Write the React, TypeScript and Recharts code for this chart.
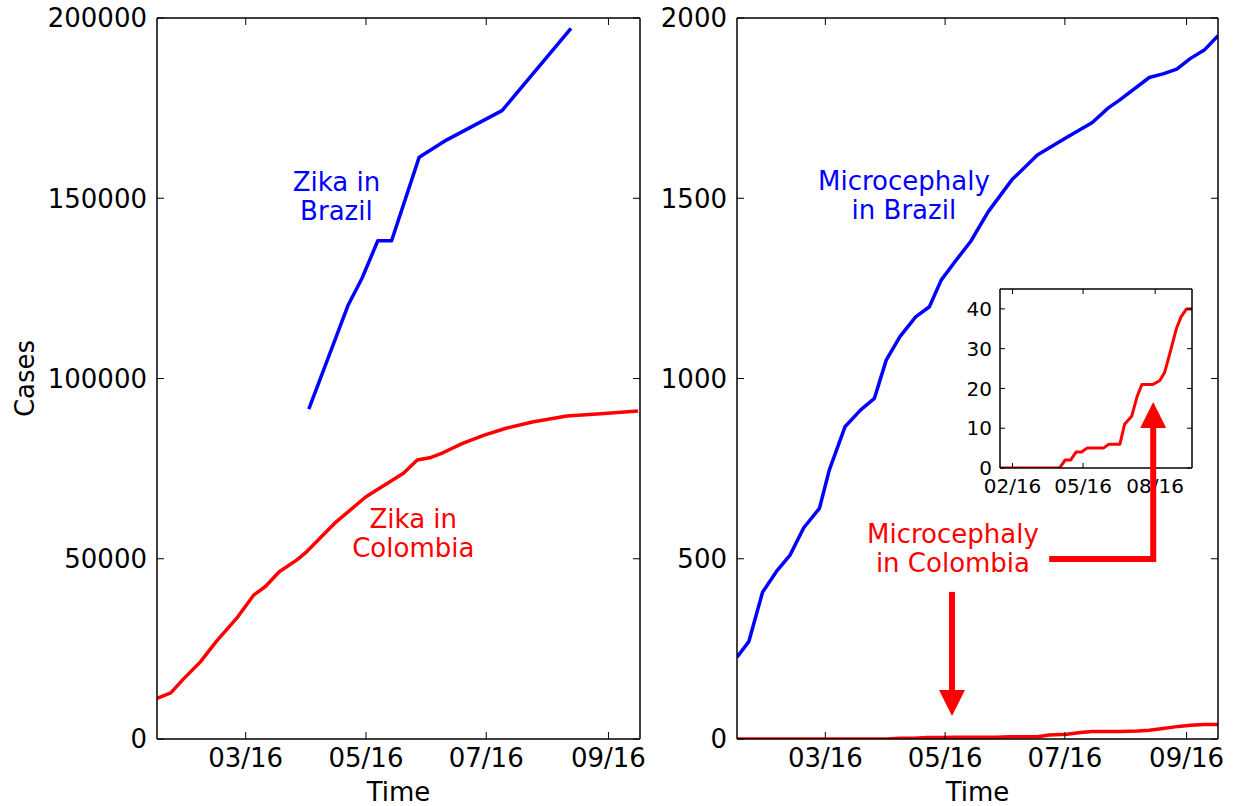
import React from 'react';
import { LineChart, Line, XAxis, YAxis, ReferenceLine, ReferenceDot } from 'recharts';

// x values are days counted from 1 Jan 2016 (day 0)
const dayRange = [15, 260];
const tickDays = [60, 121, 182, 244];
const tickLabels = ['03/16', '05/16', '07/16', '09/16'];
const insetTickDays = [31, 121, 213];
const insetTickLabels = ['02/16', '05/16', '08/16'];

const zikaTicks = [0, 50000, 100000, 150000, 200000];
const microTicks = [0, 500, 1000, 1500, 2000];
const insetTicks = [0, 10, 20, 30, 40];

const zikaBrazilDays = [92, 112, 119, 127, 134, 148, 162, 190, 225];
const zikaBrazilCases = [91500, 120400, 127800, 138200, 138200, 161400, 166200, 174300, 197100];

const zikaColombiaDays = [15, 22, 28, 37, 45, 56, 64, 70, 77, 86, 91, 105, 121, 140, 147, 154, 160, 170, 181, 192, 206, 223, 240, 259];
const zikaColombiaCases = [11300, 12800, 16400, 21400, 27000, 33900, 39900, 42300, 46400, 49700, 52000, 59800, 67200, 73700, 77400, 78100, 79400, 82000, 84300, 86200, 88000, 89600, 90200, 91000];

const microBrazilDays = [15, 21, 28, 35, 42, 49, 57, 62, 70, 78, 85, 91, 98, 106, 113, 119, 126, 134, 143, 155, 168, 182, 196, 204, 210, 225, 232, 239, 246, 253, 260];
const microBrazilCases = [227, 270, 407, 464, 510, 586, 640, 746, 866, 913, 945, 1051, 1116, 1171, 1199, 1273, 1324, 1380, 1463, 1551, 1620, 1666, 1710, 1750, 1773, 1835, 1845, 1858, 1888, 1911, 1951];

const microColombiaDays = [15, 91, 98, 105, 112, 119, 126, 147, 154, 168, 174, 183, 190, 196, 210, 219, 225, 232, 240, 246, 253, 260];
const microColombiaCases = [0, 0, 2, 2, 4, 4, 5, 5, 6, 6, 11, 13, 18, 21, 21, 22, 24, 29, 35, 38, 40, 40];

const BLUE = '#0000ff';
const RED = '#ff0000';
const FONT = "'DejaVu Sans', sans-serif";

const toPoints = (days: number[], vals: number[]) => days.map((d, i) => ({ day: d, cases: vals[i] }));
const labelFor = (days: number[], labels: string[]) => (v: number) => labels[days.indexOf(v)] ?? '';

type FrameCfg = {
  xTicks: number[];
  xFmt: (v: number) => string;
  yDomain: number[];
  yTicks: number[];
  len: number;
  size: number;
  xGap: number;
  yGap: number;
  xTitle?: string;
  yTitle?: string;
};

// four 1px axes make the closed box with inward ticks on every side
function frame(c: FrameCfg) {
  const axisLine = { stroke: '#000', strokeWidth: 1.5 };
  return [
    <XAxis
      key="xb"
      xAxisId={0}
      dataKey="day"
      type="number"
      domain={dayRange}
      allowDataOverflow
      ticks={c.xTicks}
      interval={0}
      height={1}
      tickSize={0}
      tickMargin={0}
      axisLine={axisLine}
      tickLine={false}
      tick={(p: any) => (
        <g>
          <line x1={p.x} y1={p.y} x2={p.x} y2={p.y - c.len} stroke="#000" strokeWidth={1} />
          <text x={p.x} y={p.y + c.xGap} textAnchor="middle" fontSize={c.size} fontFamily={FONT} fill="#000">
            {c.xFmt(p.payload.value)}
          </text>
        </g>
      )}
      label={
        c.xTitle
          ? {
              content: (lp: any) => (
                <text
                  x={lp.viewBox.x + lp.viewBox.width / 2}
                  y={lp.viewBox.y + 62}
                  textAnchor="middle"
                  fontSize={26}
                  fontFamily={FONT}
                  fill="#000"
                >
                  {c.xTitle}
                </text>
              ),
            }
          : undefined
      }
    />,
    <XAxis
      key="xt"
      xAxisId="top"
      orientation="top"
      dataKey="day"
      type="number"
      domain={dayRange}
      allowDataOverflow
      ticks={c.xTicks}
      interval={0}
      height={1}
      tickSize={0}
      tickMargin={0}
      axisLine={axisLine}
      tickLine={false}
      tick={(p: any) => <line x1={p.x} y1={p.y} x2={p.x} y2={p.y + c.len} stroke="#000" strokeWidth={1} />}
    />,
    <YAxis
      key="yl"
      yAxisId={0}
      type="number"
      domain={c.yDomain}
      allowDataOverflow
      ticks={c.yTicks}
      interval={0}
      width={1}
      tickSize={0}
      tickMargin={0}
      axisLine={axisLine}
      tickLine={false}
      tick={(p: any) => (
        <g>
          <line x1={p.x} y1={p.y} x2={p.x + c.len} y2={p.y} stroke="#000" strokeWidth={1} />
          <text x={p.x - c.yGap} y={p.y + c.size * 0.36} textAnchor="end" fontSize={c.size} fontFamily={FONT} fill="#000">
            {p.payload.value}
          </text>
        </g>
      )}
      label={
        c.yTitle
          ? {
              content: (lp: any) => {
                const x = lp.viewBox.x + lp.viewBox.width - 132;
                const y = lp.viewBox.y + lp.viewBox.height / 2;
                return (
                  <text
                    x={x}
                    y={y}
                    transform={`rotate(-90 ${x} ${y})`}
                    textAnchor="middle"
                    dominantBaseline="central"
                    fontSize={26}
                    fontFamily={FONT}
                    fill="#000"
                  >
                    {c.yTitle}
                  </text>
                );
              },
            }
          : undefined
      }
    />,
    <YAxis
      key="yr"
      yAxisId="right"
      orientation="right"
      type="number"
      domain={c.yDomain}
      allowDataOverflow
      ticks={c.yTicks}
      interval={0}
      width={1}
      tickSize={0}
      tickMargin={0}
      axisLine={axisLine}
      tickLine={false}
      tick={(p: any) => <line x1={p.x} y1={p.y} x2={p.x - c.len} y2={p.y} stroke="#000" strokeWidth={1} />}
    />,
  ];
}

const note = (key: string, day: number, cases: number, lines: string[], color: string) => (
  <ReferenceDot
    key={key}
    x={day}
    y={cases}
    r={0}
    shape={(p: any) => (
      <text x={p.cx} y={p.cy} fill={color} fontSize={26} fontFamily={FONT} textAnchor="middle">
        {lines.map((l, i) => (
          <tspan key={i} x={p.cx} dy={i === 0 ? 0 : 29}>
            {l}
          </tspan>
        ))}
      </text>
    )}
  />
);

const arrowHead = (key: string, day: number, cases: number, up: boolean) => (
  <ReferenceDot
    key={key}
    x={day}
    y={cases}
    r={0}
    shape={(p: any) => {
      const b = up ? p.cy + 26 : p.cy - 26;
      return <polygon points={`${p.cx},${p.cy} ${p.cx - 13},${b} ${p.cx + 13},${b}`} fill={RED} />;
    }}
  />
);

const lineProps = { type: 'linear' as const, dataKey: 'cases', strokeWidth: 3.5, dot: false, activeDot: false, isAnimationActive: false, strokeLinejoin: 'round' as const };

export default function App() {
  const mainFmt = labelFor(tickDays, tickLabels);
  const insetFmt = labelFor(insetTickDays, insetTickLabels);

  return (
    <div style={{ position: 'absolute', left: 0, top: 0, width: 1233, height: 806, background: '#fff', fontFamily: FONT }}>
      <div style={{ position: 'absolute', left: 0, top: 0 }}>
        <LineChart width={660} height={806} margin={{ top: 17, left: 156, right: 19, bottom: 66 }}>
          {frame({ xTicks: tickDays, xFmt: mainFmt, yDomain: [0, 200000], yTicks: zikaTicks, len: 7, size: 26, xGap: 28, yGap: 10, xTitle: 'Time', yTitle: 'Cases' })}
          <Line {...lineProps} data={toPoints(zikaBrazilDays, zikaBrazilCases)} stroke={BLUE} />
          <Line {...lineProps} data={toPoints(zikaColombiaDays, zikaColombiaCases)} stroke={RED} />
          {note('n1', 106, 152100, ['Zika in', 'Brazil'], BLUE)}
          {note('n2', 145, 58500, ['Zika in', 'Colombia'], RED)}
        </LineChart>
      </div>

      <div style={{ position: 'absolute', left: 940, top: 270 }}>
        <LineChart width={270} height={240} margin={{ top: 18, left: 59, right: 17, bottom: 41 }}>
          {frame({ xTicks: insetTickDays, xFmt: insetFmt, yDomain: [0, 45], yTicks: insetTicks, len: 5, size: 20, xGap: 25, yGap: 8 })}
          <Line {...lineProps} strokeWidth={3} data={toPoints(microColombiaDays, microColombiaCases)} stroke={RED} />
        </LineChart>
      </div>

      <div style={{ position: 'absolute', left: 660, top: 0 }}>
        <LineChart width={573} height={806} margin={{ top: 17, left: 76, right: 14, bottom: 66 }}>
          {frame({ xTicks: tickDays, xFmt: mainFmt, yDomain: [0, 2000], yTicks: microTicks, len: 7, size: 26, xGap: 28, yGap: 10, xTitle: 'Time' })}
          <Line {...lineProps} data={toPoints(microBrazilDays, microBrazilCases)} stroke={BLUE} />
          <Line {...lineProps} data={toPoints(microColombiaDays, microColombiaCases)} stroke={RED} />
          {note('n3', 100, 1523, ['Microcephaly', 'in Brazil'], BLUE)}
          {note('n4', 125, 544, ['Microcephaly', 'in Colombia'], RED)}
          <ReferenceLine segment={[{ x: 124.5, y: 408 }, { x: 124.5, y: 136 }]} stroke={RED} strokeWidth={6} />
          {arrowHead('a1', 124.5, 64, false)}
          <ReferenceLine segment={[{ x: 174, y: 499 }, { x: 227, y: 499 }]} stroke={RED} strokeWidth={6} />
          <ReferenceLine segment={[{ x: 227, y: 499 }, { x: 227, y: 866 }]} stroke={RED} strokeWidth={6} strokeLinecap="square" />
          {arrowHead('a2', 227, 935, true)}
        </LineChart>
      </div>
    </div>
  );
}
